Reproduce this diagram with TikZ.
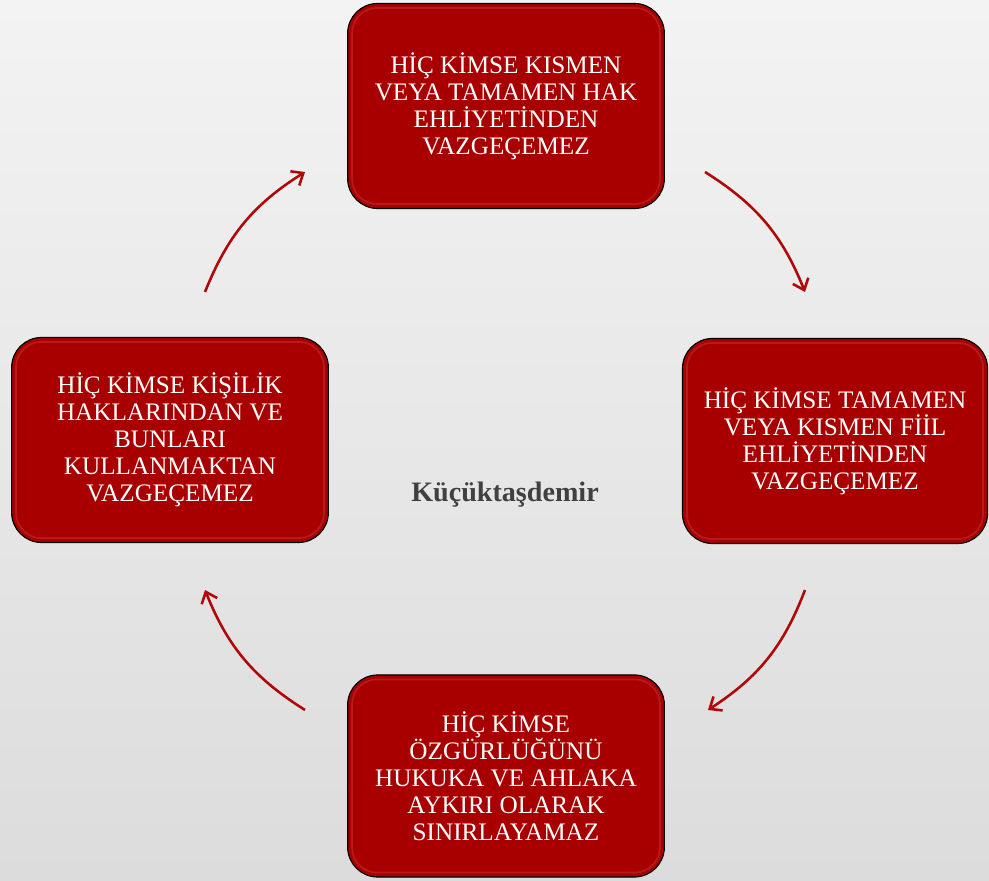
\documentclass[tikz,border=0pt]{standalone}
\usepackage{fontspec}
\setmainfont{Liberation Serif}
\usetikzlibrary{positioning}
\usetikzlibrary{calc}
\usetikzlibrary{arrows.meta}
\usepackage{xcolor}
\definecolor{kirmizi}{HTML}{A80000}
\definecolor{parlak}{HTML}{D04040}
\definecolor{okrenk}{HTML}{B00808}
\definecolor{zeminust}{HTML}{F3F3F3}
\definecolor{zeminalt}{HTML}{DCDCDC}
\definecolor{yazirengi}{HTML}{404040}
\tikzset{
    kutu/.style={draw=black, line width=1pt, fill=kirmizi, rounded corners=0.9cm,
        minimum width=9.5cm, minimum height=6.15cm, align=center, text=white,
        font=\fontsize{21.5}{23}\selectfont},
    okcizgi/.style={draw=okrenk, line width=2.2pt, -{Straight Barb[length=3mm,width=5mm]}, bend left=18},
}

\begin{document}
\begin{tikzpicture}[x=0.03cm,y=0.03cm]
        \useasboundingbox (0,0) rectangle (989,881);
        \shade[top color=zeminust, bottom color=zeminalt] (0,0) rectangle (989,881);
        % kutular
        \node[kutu] (hak) at (506,775) {HİÇ KİMSE KISMEN\\VEYA TAMAMEN HAK\\EHLİYETİNDEN\\VAZGEÇEMEZ};
        \node[kutu, minimum width=9.15cm] (fiil) at (835,440) {HİÇ KİMSE TAMAMEN\\VEYA KISMEN FİİL\\EHLİYETİNDEN\\VAZGEÇEMEZ};
        \node[kutu, minimum height=6.06cm] (ozgur) at (506,105) {HİÇ KİMSE\\ÖZGÜRLÜĞÜNÜ\\HUKUKA VE AHLAKA\\AYKIRI OLARAK\\SINIRLAYAMAZ};
        \node[kutu] (kisilik) at (170,441) {HİÇ KİMSE KİŞİLİK\\HAKLARINDAN VE\\BUNLARI\\KULLANMAKTAN\\VAZGEÇEMEZ};
        \node[font=\fontsize{24}{28}\selectfont\bfseries, text=yazirengi] (yazar) at (505,386) {Küçüktaşdemir};
        % parlak kenarlar
        \foreach \k in {hak, fiil, ozgur, kisilik}
        {
            \draw[parlak, opacity=.4, line width=1.5pt, rounded corners=0.75cm]
                ($(\k.south west)+(5,5)$) rectangle ($(\k.north east)-(5,5)$);
        }
        % oklar
        \coordinate (o1) at (205,589);
        \coordinate (o2) at (305,709);
        \coordinate (o3) at (705,709);
        \coordinate (o4) at (805,589);
        \coordinate (o5) at (805,291);
        \coordinate (o6) at (708,171);
        \coordinate (o7) at (305,171);
        \coordinate (o8) at (205,291);
        \foreach \a/\b in {o1/o2, o3/o4, o5/o6, o7/o8}
        {
            \draw[okcizgi] (\a) to (\b);
        }
    \end{tikzpicture}
\end{document}
